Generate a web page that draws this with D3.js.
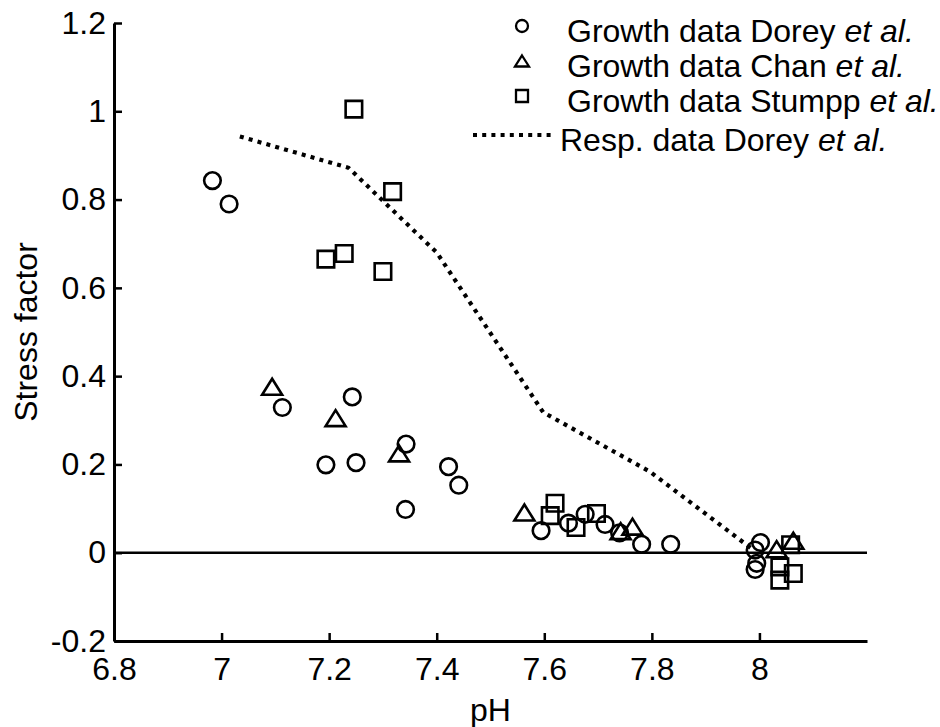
<!DOCTYPE html>
<html>
<head>
<meta charset="utf-8">
<script src="https://cdn.jsdelivr.net/npm/d3@7"></script>
<style>
  body { margin: 0; background: #fff; }
  text { font-family: "Liberation Sans", Arial, sans-serif; fill: #000; }
</style>
</head>
<body>
<div id="chart"></div>
<script>
// DATA
const doreyPH   = [6.983, 7.014, 7.113, 7.243, 7.194, 7.250, 7.343, 7.422, 7.441, 7.342,
                   7.594, 7.645, 7.676, 7.713, 7.740, 7.781, 7.835, 8.002, 7.992, 7.995, 7.992];
const doreyVal  = [0.843, 0.790, 0.329, 0.353, 0.199, 0.204, 0.246, 0.195, 0.153, 0.098,
                   0.050, 0.067, 0.087, 0.064, 0.045, 0.019, 0.019, 0.023, 0.006, -0.024, -0.038];

const chanPH    = [7.094, 7.212, 7.330, 7.563, 7.742, 7.764, 8.032, 8.063];
const chanVal   = [0.376, 0.305, 0.225, 0.091, 0.049, 0.059, 0.008, 0.027];

const stumppPH  = [7.246, 7.318, 7.194, 7.228, 7.300, 7.620, 7.611, 7.659, 7.697,
                   8.058, 8.038, 8.038, 8.063];
const stumppVal = [1.005, 0.818, 0.665, 0.678, 0.637, 0.112, 0.084, 0.057, 0.089,
                   0.018, -0.032, -0.062, -0.047];

const respPH    = [7.034, 7.236, 7.40, 7.598, 7.796, 7.99];
const respVal   = [0.943, 0.872, 0.68, 0.318, 0.184, 0.005];

const xTicks = [6.8, 7, 7.2, 7.4, 7.6, 7.8, 8];
const yTicks = [-0.2, 0, 0.2, 0.4, 0.6, 0.8, 1, 1.2];

const legendLabels = [
    ["Growth data Dorey ", "et al."],
    ["Growth data Chan ", "et al."],
    ["Growth data Stumpp ", "et al."],
    ["Resp. data Dorey ", "et al."]
];

// SET GLOBAL VARIABLES
const W = 940, H = 727;
const fontSize = 32;

const svg = d3.select("#chart")
    .append("svg")
    .attr("width", W)
    .attr("height", H);

const x = d3.scaleLinear().domain([6.8, 8.2]).range([114, 867]);
const y = d3.scaleLinear().domain([-0.2, 1.2]).range([641, 23]);

const zip = (a, b) => a.map((v, i) => ({ ph: v, val: b[i] }));
const fmt = d => String(d);   // plain hyphen minus, like the original

// marker shapes
const circlePath = r => `M${r},0A${r},${r} 0 1,1 ${-r},0A${r},${r} 0 1,1 ${r},0Z`;
const squarePath = s => `M${-s/2},${-s/2}H${s/2}V${s/2}H${-s/2}Z`;
const triPath = (w, h) => `M0,${-h/2}L${w/2},${h/2}H${-w/2}Z`;

// zero line
svg.append("line")
    .attr("x1", x(6.8)).attr("x2", x(8.2))
    .attr("y1", y(0)).attr("y2", y(0))
    .attr("stroke", "#000").attr("stroke-width", 2.5);

// Draw X axis
const xAxis = svg.append("g")
    .attr("transform", `translate(0,${y(-0.2)})`)
    .call(d3.axisBottom(x).tickValues(xTicks).tickFormat(fmt)
        .tickSizeInner(-8).tickSizeOuter(0).tickPadding(16));
xAxis.select(".domain").attr("stroke-width", 3);
xAxis.selectAll(".tick line").attr("stroke-width", 2.5);
xAxis.selectAll("text").style("font-size", fontSize + "px")
    .style("font-family", "Liberation Sans, Arial, sans-serif");

// Draw Y axis
const yAxis = svg.append("g")
    .attr("transform", `translate(${x(6.8)},0)`)
    .call(d3.axisLeft(y).tickValues(yTicks).tickFormat(fmt)
        .tickSizeInner(-8).tickSizeOuter(0).tickPadding(8));
yAxis.select(".domain").attr("stroke-width", 3);
yAxis.selectAll(".tick line").attr("stroke-width", 2.5);
yAxis.selectAll("text").style("font-size", fontSize + "px")
    .style("font-family", "Liberation Sans, Arial, sans-serif");

// Axis labels
svg.append("text")
    .attr("x", (x(6.8) + x(8.2)) / 2)
    .attr("y", 721)
    .attr("text-anchor", "middle")
    .style("font-size", fontSize + "px")
    .text("pH");

svg.append("text")
    .attr("transform", `translate(37,${(y(-0.2) + y(1.2)) / 2}) rotate(-90)`)
    .attr("text-anchor", "middle")
    .style("font-size", fontSize + "px")
    .text("Stress factor");

// Resp. line
svg.append("path")
    .datum(zip(respPH, respVal))
    .attr("fill", "none")
    .attr("stroke", "#000")
    .attr("stroke-width", 4.2)
    .attr("stroke-dasharray", "4,5.2")
    .attr("d", d3.line().x(d => x(d.ph)).y(d => y(d.val)));

// markers
const marks = svg.append("g")
    .attr("fill", "none")
    .attr("stroke", "#000")
    .attr("stroke-width", 2.6);

marks.selectAll(".dorey")
    .data(zip(doreyPH, doreyVal))
    .join("path")
    .attr("class", "dorey")
    .attr("transform", d => `translate(${x(d.ph)},${y(d.val)})`)
    .attr("d", circlePath(8.3));

marks.selectAll(".chan")
    .data(zip(chanPH, chanVal))
    .join("path")
    .attr("class", "chan")
    .attr("transform", d => `translate(${x(d.ph)},${y(d.val)})`)
    .attr("d", triPath(20, 16));

marks.selectAll(".stumpp")
    .data(zip(stumppPH, stumppVal))
    .join("path")
    .attr("class", "stumpp")
    .attr("transform", d => `translate(${x(d.ph)},${y(d.val)})`)
    .attr("d", squarePath(16.5));

// Legend
const legend = svg.append("g");
const rowY = [26, 61, 96, 135];
const shapes = [circlePath(6), triPath(14, 11), squarePath(12)];

shapes.forEach((s, i) => {
    legend.append("path")
        .attr("transform", `translate(522,${rowY[i]})`)
        .attr("d", s)
        .attr("fill", "none")
        .attr("stroke", "#000")
        .attr("stroke-width", 2.3);
});

legend.append("line")
    .attr("x1", 473).attr("x2", 553)
    .attr("y1", rowY[3]).attr("y2", rowY[3])
    .attr("stroke", "#000")
    .attr("stroke-width", 4.2)
    .attr("stroke-dasharray", "4,5.2");

legendLabels.forEach((lab, i) => {
    const t = legend.append("text")
        .attr("x", i === 3 ? 560 : 567)
        .attr("y", rowY[i] + 16)
        .style("font-size", fontSize + "px");
    t.append("tspan").text(lab[0]);
    t.append("tspan").style("font-style", "italic").text(lab[1]);
});
</script>
</body>
</html>
